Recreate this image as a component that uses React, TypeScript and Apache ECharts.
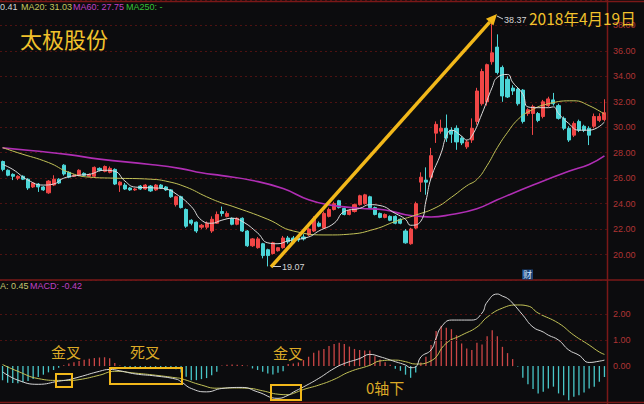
import React, { useEffect, useRef } from "react";
import * as echarts from "echarts";

// ---- Price candles (open, close, low, high) ----
const opens = [
  27.31, 26.62, 26.3, 26.0, 26.15, 25.92, 25.31, 25.54, 25.31, 24.85,
  25.46, 25.92, 27.02, 26.46, 26.15, 26.23, 26.38, 26.15, 26.15, 26.77,
  26.54, 26.46, 26.69, 25.46, 25.46, 25.23, 25.08, 25.38, 25.15, 25.38,
  25.08, 25.46, 25.31, 25.08, 23.92, 24.54, 23.54, 22.69, 22.54, 22.15,
  22.15, 21.85, 22.46, 23.38, 23.0, 22.85, 22.38, 22.85, 21.85, 20.69,
  20.54, 20.85, 20.38, 20.08, 20.3, 20.54, 21.3, 21.3, 21.3, 21.38,
  21.54, 21.85, 22.46, 22.08, 23.0, 23.54, 24.23, 23.62, 23.15, 23.38,
  23.92, 24.0, 24.54, 23.69, 23.23, 22.92, 23.0, 23.0, 22.77, 21.85,
  20.85, 22.08, 25.69, 25.85, 26.08, 29.54, 29.69, 29.92, 29.77, 29.92,
  29.15, 28.46, 29.0, 30.46, 31.85, 32.0, 35.15, 36.3, 34.7, 33.77,
  33.08, 33.0, 32.92, 31.08, 31.08, 31.08, 30.85, 31.7, 32.15, 31.7,
  30.7, 29.92, 29.38, 30.46, 30.08, 29.92, 30.08, 30.54, 30.6,
];
const closes = [
  26.69, 26.23, 26.15, 26.15, 25.92, 25.23, 25.62, 25.31, 25.08, 25.77,
  25.92, 25.62, 26.33, 26.08, 26.23, 26.62, 26.23, 26.3, 26.85, 26.62,
  26.92, 26.77, 25.54, 25.69, 25.15, 25.08, 25.15, 25.15, 25.46, 25.0,
  25.46, 25.23, 25.08, 24.54, 24.54, 23.69, 22.23, 22.46, 21.85, 22.3,
  22.46, 22.77, 23.15, 23.23, 23.23, 22.38, 22.85, 21.85, 20.69, 21.23,
  21.23, 19.92, 19.92, 20.92, 20.54, 21.3, 21.0, 20.92, 21.15, 21.23,
  22.0, 22.85, 22.23, 23.23, 23.54, 24.0, 23.69, 23.15, 23.46, 23.92,
  24.62, 24.69, 23.69, 23.15, 22.92, 23.15, 22.69, 22.46, 22.46, 20.92,
  22.0, 24.0, 26.08, 25.69, 27.77, 30.23, 29.92, 29.15, 29.46, 28.85,
  28.77, 28.85, 29.92, 32.85, 34.38, 34.92, 35.85, 34.3, 32.46, 32.38,
  32.85, 31.85, 30.46, 31.38, 31.62, 30.54, 32.0, 32.23, 31.85, 30.7,
  29.92, 29.0, 30.3, 29.77, 29.77, 29.38, 30.85, 30.85, 31.15,
];
const lows = [
  26.54, 26.15, 25.85, 25.85, 25.85, 25.08, 25.23, 24.92, 25.0, 24.77,
  25.38, 25.54, 26.2, 26.0, 26.1, 26.15, 26.15, 26.08, 26.08, 26.54,
  26.46, 26.38, 25.46, 24.92, 25.08, 25.0, 25.0, 25.08, 25.08, 24.92,
  25.0, 25.15, 25.0, 24.46, 23.77, 23.62, 22.1, 22.3, 21.7, 22.0,
  22.0, 21.7, 22.4, 23.0, 22.92, 22.3, 22.3, 21.77, 20.6, 20.6,
  20.46, 19.7, 19.07, 20.0, 20.23, 20.46, 20.85, 20.85, 21.0, 21.1,
  21.46, 21.77, 22.15, 22.0, 22.92, 23.46, 23.62, 23.08, 23.08, 23.3,
  23.85, 23.92, 23.62, 23.08, 22.85, 22.85, 22.62, 22.38, 22.38, 20.85,
  20.77, 22.0, 24.92, 24.7, 25.9, 28.77, 29.5, 28.85, 28.77, 28.23,
  28.6, 28.3, 28.77, 30.2, 31.7, 31.7, 34.92, 34.15, 32.0, 32.3,
  32.54, 31.7, 30.3, 30.9, 29.4, 30.4, 30.7, 31.6, 31.7, 30.6,
  29.77, 28.85, 29.23, 29.62, 29.62, 28.6, 29.92, 30.4, 30.46,
];
const highs = [
  27.38, 26.69, 26.38, 26.23, 26.23, 26.0, 25.69, 25.62, 25.38, 25.85,
  26.23, 26.0, 27.1, 26.54, 26.3, 26.7, 26.46, 26.38, 26.92, 26.85,
  27.0, 26.92, 26.77, 25.77, 25.62, 25.31, 25.23, 25.46, 25.54, 25.46,
  25.54, 25.54, 25.38, 25.15, 24.62, 24.62, 23.62, 22.77, 22.6, 22.4,
  22.6, 23.0, 23.38, 23.77, 23.4, 22.92, 22.92, 22.92, 21.92, 21.3,
  21.38, 20.92, 20.46, 21.0, 20.6, 21.46, 21.46, 21.46, 21.46, 21.6,
  22.1, 23.0, 22.6, 23.38, 23.69, 24.15, 24.3, 23.69, 23.54, 24.0,
  24.7, 24.77, 24.62, 23.77, 23.3, 23.23, 23.08, 23.08, 22.85, 22.0,
  22.1, 24.15, 26.46, 26.85, 28.38, 30.46, 30.6, 31.0, 30.0, 30.15,
  29.3, 29.0, 30.7, 33.1, 34.6, 35.0, 38.37, 37.3, 34.85, 34.0,
  33.3, 33.1, 33.0, 31.5, 31.77, 31.2, 32.15, 32.4, 32.7, 31.85,
  30.85, 30.08, 30.46, 30.6, 30.2, 30.08, 31.08, 31.1, 32.2,
];

// ---- Moving averages as [candle index, value] ----
const ma5Points: [number, number][] = [
  [0, 27.08], [2, 26.69], [5, 25.85], [8, 25.46], [10, 25.54], [12, 26.0],
  [15, 26.23], [17, 26.3], [20, 26.62], [22, 26.54], [24, 25.77], [26, 25.3],
  [30, 25.23], [32, 25.15], [34, 24.77], [37, 23.77], [39, 22.7], [41, 22.46],
  [43, 22.7], [45, 22.85], [47, 22.6], [50, 21.7], [52, 20.92], [54, 20.85],
  [56, 21.08], [60, 21.38], [62, 21.85], [65, 22.46], [67, 23.38], [70, 23.62],
  [72, 23.92], [74, 23.85], [77, 23.23], [79, 22.77], [80, 22.3], [82, 22.62],
  [83, 24.2], [84, 26.0], [86, 28.0], [87, 29.3], [88, 29.77], [90, 29.3],
  [91, 29.0], [92, 29.3], [94, 31.08], [96, 33.15], [97, 33.92], [99, 34.15],
  [100, 33.54], [102, 32.6], [103, 31.6], [105, 31.54], [107, 31.54], [108, 31.6],
  [109, 31.08], [111, 30.3], [113, 29.77], [115, 29.77], [118, 30.41],
];
const ma20Points: [number, number][] = [
  [0, 28.4], [3, 28.0], [9, 27.23], [13, 26.46], [17, 26.08], [22, 26.0],
  [29, 25.92], [32, 25.77], [36, 25.3], [40, 24.54], [43, 24.05], [45, 23.8],
  [52, 22.77], [57, 21.85], [64, 21.54], [68, 21.6], [73, 22.0], [77, 22.6],
  [81, 23.1], [85, 23.7], [88, 24.5], [91, 25.4], [93, 25.9], [95, 27.0],
  [97, 28.4], [99, 29.6], [101, 30.6], [103, 31.2], [107, 31.85], [112, 32.08],
  [115, 31.7], [118, 31.03],
];
const ma60Points: [number, number][] = [
  [0, 28.38], [6, 28.15], [13, 27.85], [19, 27.5], [29, 27.08], [35, 26.75],
  [39, 26.42], [43, 26.2], [49, 25.82], [55, 25.18], [60, 24.3], [64, 23.9],
  [70, 23.64], [75, 23.5], [79, 23.13], [82, 23.0], [84, 22.95], [88, 23.15],
  [93, 23.6], [97, 24.3], [104, 25.46], [111, 26.54], [115, 27.08], [118, 27.75],
];

// ---- MACD ----
const macdHist = [
  -0.54, -0.64, -0.65, -0.66, -0.62, -0.57, -0.5, -0.42, -0.33, -0.24,
  -0.15, -0.06, 0.03, 0.1, 0.15, 0.2, 0.24, 0.28, 0.31, 0.33,
  0.34, 0.3, 0.12, 0.02, -0.03, -0.04, -0.04, -0.03, -0.04, -0.05,
  -0.04, -0.03, -0.04, -0.06, -0.12, -0.25, -0.41, -0.54, -0.54, -0.5,
  -0.46, -0.35, -0.22, 0.02, 0.05, 0.06, 0.05, 0.04, 0.02, -0.09,
  -0.15, -0.22, -0.28, -0.32, -0.26, -0.2, 0.08, 0.1, 0.14, 0.23,
  0.36, 0.51, 0.6, 0.66, 0.77, 0.85, 0.9, 0.85, 0.75, 0.66,
  0.62, 0.6, 0.6, 0.38, 0.25, 0.15, 0.05, -0.1, -0.18, -0.33,
  -0.45, -0.25, 0.14, 0.36, 0.81, 1.35, 1.55, 1.47, 1.42, 1.19,
  0.87, 0.68, 0.62, 0.9, 0.83, 1.15, 1.38, 1.15, 0.74, 0.5,
  0.27, -0.02, -0.45, -0.7, -0.88, -1.05, -0.99, -0.86, -0.79, -1.05,
  -1.12, -1.31, -1.18, -1.12, -1.01, -0.86, -0.79, -0.6, -0.42,
];
const difPoints: [number, number][] = [
  [0, -0.22], [3, -0.54], [7, -0.7], [11, -0.58], [13, -0.52], [15, -0.42],
  [19, -0.2], [21, -0.13], [23, -0.18], [26, -0.3], [30, -0.38], [34, -0.5],
  [35, -0.6], [37, -0.86], [40, -0.99], [43, -0.86], [47, -0.82], [50, -0.99],
  [54, -1.24], [56, -1.12], [57, -1.0], [59, -0.8], [62, -0.47], [65, -0.09],
  [67, 0.1], [70, 0.29], [72, 0.45], [74, 0.36], [77, 0.17], [79, 0.04],
  [80, -0.06], [81, -0.03], [82, 0.35], [84, 0.62], [85, 1.08], [86, 1.5],
  [88, 1.77], [90, 1.77], [92, 1.77], [94, 2.04], [95, 2.46], [97, 2.77],
  [98, 2.69], [99, 2.6], [100, 2.42], [102, 1.96], [104, 1.5], [106, 1.31],
  [107, 1.19], [109, 1.0], [111, 0.62], [113, 0.42], [115, 0.14], [117, 0.19],
  [118, 0.23],
];
const deaPoints: [number, number][] = [
  [0, 0.06], [3, -0.2], [7, -0.48], [11, -0.55], [13, -0.55], [15, -0.52],
  [19, -0.35], [22, -0.2], [26, -0.27], [30, -0.35], [34, -0.45], [35, -0.48],
  [39, -0.73], [42, -0.85], [45, -0.84], [48, -0.85], [51, -0.95], [54, -1.08],
  [56, -1.1], [57, -1.05], [59, -0.9], [62, -0.73], [65, -0.51], [68, -0.22],
  [72, 0.03], [74, 0.2], [77, 0.23], [79, 0.17], [81, 0.08], [84, 0.2],
  [87, 0.88], [90, 1.19], [93, 1.5], [95, 1.88], [98, 2.23], [101, 2.35],
  [103, 2.31], [105, 2.04], [109, 1.65], [112, 1.19], [115, 0.81], [117, 0.54],
  [118, 0.45],
];

// ---- Axis ticks ----
const priceTicks = [20, 22, 24, 26, 28, 30, 32, 34, 36, 38];
const macdTicks = [0, 1, 2];
const macdGuides = [1, 2];

const NUM_FONT = "'Liberation Sans', Arial, sans-serif";
const CJK_FONT = "'Noto Sans CJK SC', sans-serif";
const UP = "#f04646";
const DOWN = "#4cd6d8";
const FRAME = "#7a1818";
const GOLD = "#f2b81a";
const ANNO = "#dcaa26";

export default function App() {
  const ref = useRef<HTMLDivElement>(null);

  useEffect(() => {
    document.body.style.margin = "0";
    if (!ref.current) return;
    const chart = echarts.init(ref.current, null, { renderer: "svg" });

    const days = opens.map((_, i) => String(i + 1));
    const candles = opens.map((o, i) => [o, closes[i], lows[i], highs[i]]);

    const lineSeries = (name: string, data: [number, number][], color: string, width: number, axisIdx: number) => ({
      name,
      type: "line",
      xAxisIndex: axisIdx,
      yAxisIndex: axisIdx,
      data,
      smooth: true,
      symbol: "none",
      z: 4,
      lineStyle: { color, width },
    });

    const t = (text: string, x: number, y: number, fill: string, fontSize: number, fontFamily = NUM_FONT) => ({
      type: "text",
      x,
      y,
      z: 100,
      style: { text, fill, fontSize, fontFamily, verticalAlign: "middle", align: "left" },
    });
    const hline = (y: number) => ({
      type: "line",
      z: 90,
      shape: { x1: 0, y1: y, x2: 644, y2: y },
      style: { stroke: FRAME, lineWidth: 1.5 },
    });
    const box = (x: number, y: number, w: number, h: number) => ({
      type: "rect",
      z: 100,
      shape: { x, y, width: w, height: h },
      style: { fill: "transparent", stroke: GOLD, lineWidth: 2 },
    });

    // arrow geometry
    const ax1 = 271, ay1 = 267, tipX = 497, tipY = 14;
    const dx = tipX - ax1, dy = tipY - ay1;
    const len = Math.sqrt(dx * dx + dy * dy);
    const ux = dx / len, uy = dy / len;
    const bx = tipX - ux * 11, by = tipY - uy * 11;
    const px = -uy, py = ux;

    const option: any = {
      animation: false,
      backgroundColor: "#0c0c0e",
      textStyle: { fontFamily: NUM_FONT },
      grid: [
        { left: 0, right: 37, top: -6, bottom: 124 },
        { left: 0, right: 37, top: 280, bottom: 2 },
      ],
      xAxis: [
        { type: "category", data: days, gridIndex: 0, show: false, boundaryGap: true },
        { type: "category", data: days, gridIndex: 1, show: false, boundaryGap: true },
      ],
      yAxis: [
        {
          type: "value",
          gridIndex: 0,
          position: "right",
          min: 18,
          max: 40,
          interval: 2,
          axisLine: { show: false },
          axisTick: { show: false },
          axisLabel: {
            color: "#b03434",
            fontSize: 9,
            margin: 6,
            fontFamily: NUM_FONT,
            formatter: (v: number) => (priceTicks.includes(v) ? v.toFixed(2) : ""),
          },
          splitLine: { show: true, lineStyle: { color: "#4e1212", type: [2, 3], width: 1 } },
        },
        {
          type: "value",
          gridIndex: 1,
          position: "right",
          min: -1.38,
          max: 3.31,
          axisLine: { show: false },
          axisTick: { show: false },
          axisLabel: {
            color: "#b03434",
            fontSize: 9,
            margin: 6,
            fontFamily: NUM_FONT,
            showMinLabel: false,
            showMaxLabel: false,
            formatter: (v: number) =>
              macdTicks.some((m) => Math.abs(m - v) < 1e-6) ? v.toFixed(2) : "",
          },
          splitLine: { show: false },
        },
      ],
      series: [
        {
          name: "K",
          type: "candlestick",
          xAxisIndex: 0,
          yAxisIndex: 0,
          data: candles,
          barWidth: 3.6,
          z: 2,
          itemStyle: {
            color: UP,
            color0: DOWN,
            borderColor: UP,
            borderColor0: DOWN,
            borderWidth: 1,
          },
        },
        lineSeries("MA60", ma60Points, "#b02eb4", 1.6, 0),
        lineSeries("MA20", ma20Points, "#c2c257", 1, 0),
        lineSeries("MA5", ma5Points, "#dcdcdc", 1, 0),
        {
          name: "MACD",
          type: "bar",
          xAxisIndex: 1,
          yAxisIndex: 1,
          data: macdHist,
          barWidth: 1.3,
          z: 2,
          itemStyle: {
            color: (p: any) => (p.value >= 0 ? "#cc4646" : "#48c6c8"),
          },
          markLine: {
            silent: true,
            symbol: "none",
            label: { show: false },
            lineStyle: { color: "#4e1212", type: [2, 3], width: 1 },
            data: macdGuides.map((g) => ({ yAxis: g })),
          },
        },
        lineSeries("DEA", deaPoints, "#c2c257", 1, 1),
        lineSeries("DIF", difPoints, "#d6d6d6", 1, 1),
      ],
      graphic: [
        hline(1.5),
        hline(280),
        hline(402.5),
        {
          type: "line",
          z: 90,
          shape: { x1: 607.5, y1: 0, x2: 607.5, y2: 404 },
          style: { stroke: FRAME, lineWidth: 1.5 },
        },
        // top legend
        t("0.41", 0, 7, "#d4d4d4", 9),
        t("MA20: 31.03", 21, 7, "#c6c65e", 9),
        t("MA60: 27.75", 73, 7, "#c040c4", 9),
        t("MA250: -", 126, 7, "#36c236", 9),
        // macd legend
        t("A: 0.45", 0, 286, "#c6c66e", 9),
        t("MACD: -0.42", 30, 286, "#c040c4", 9),
        // title and date
        t("太极股份", 20, 38, "#f2c22c", 22, CJK_FONT),
        t("2018年4月19日", 529, 18, "#f2c22c", 15.5, CJK_FONT),
        // price extremes
        {
          type: "line",
          z: 100,
          shape: { x1: 497, y1: 16, x2: 503, y2: 19 },
          style: { stroke: "#d0d0d0", lineWidth: 1 },
        },
        t("38.37", 504, 20, "#d6d6d6", 9),
        {
          type: "line",
          z: 100,
          shape: { x1: 273, y1: 266.5, x2: 281, y2: 266.5 },
          style: { stroke: "#d0d0d0", lineWidth: 1 },
        },
        t("19.07", 282, 267, "#d6d6d6", 9),
        // arrow
        {
          type: "line",
          z: 95,
          shape: { x1: ax1, y1: ay1, x2: bx, y2: by },
          style: { stroke: GOLD, lineWidth: 3.5 },
        },
        {
          type: "polygon",
          z: 95,
          shape: {
            points: [
              [tipX, tipY],
              [bx + px * 5, by + py * 5],
              [bx - px * 5, by - py * 5],
            ],
          },
          style: { fill: GOLD },
        },
        // 财 badge
        {
          type: "rect",
          z: 100,
          shape: { x: 522, y: 269.5, width: 11, height: 10 },
          style: { fill: "#1b4378" },
        },
        {
          type: "text",
          x: 527.5,
          y: 274.5,
          z: 101,
          style: { text: "财", fill: "#cfe2ff", fontSize: 9, fontFamily: CJK_FONT, align: "center", verticalAlign: "middle" },
        },
        // MACD annotations
        t("金叉", 51, 351, ANNO, 15, CJK_FONT),
        t("死叉", 130, 351, ANNO, 15, CJK_FONT),
        t("金叉", 273, 352, ANNO, 15, CJK_FONT),
        t("0轴下", 366, 387, ANNO, 15, CJK_FONT),
        box(56, 374, 16, 13),
        box(110, 368, 72, 16),
        box(271, 385, 30, 15),
      ],
    };

    chart.setOption(option);
    return () => chart.dispose();
  }, []);

  return (
    <div
      ref={ref}
      style={{ position: "absolute", left: 0, top: 0, width: 644, height: 404, background: "#0c0c0e" }}
    />
  );
}
